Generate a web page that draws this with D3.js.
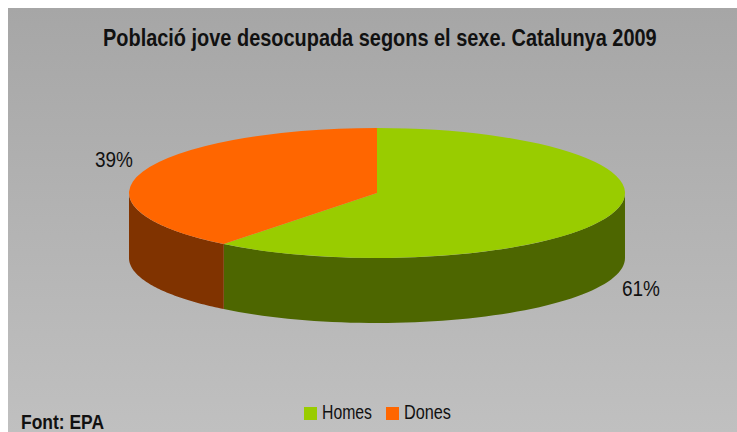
<!DOCTYPE html>
<html><head><meta charset="utf-8">
<script src="https://cdn.jsdelivr.net/npm/d3@7/dist/d3.min.js"></script>
<style>html,body{margin:0;padding:0;background:#fff}svg{display:block}
text{font-family:"Liberation Sans",sans-serif;fill:#111}</style>
</head><body><div id="c"></div>
<script>
const title = "Població jove desocupada segons el sexe. Catalunya 2009";
const source = "Font: EPA";
const categories = ["Homes","Dones"];
const values = [60.6,39.4];
const topColors = ["#99cc00","#ff6600"];
const sideColors = ["#4d6600","#803300"];

const W=737,H=432,cx=377,cy=193,rx=248,ry=65,depth=65;
const svg=d3.select("#c").append("svg").attr("width",W).attr("height",H);
const grad=svg.append("defs").append("linearGradient").attr("id","bg").attr("x1",0).attr("x2",0).attr("y1",0).attr("y2",1);
grad.append("stop").attr("offset",0).attr("stop-color","#a6a6a6");
grad.append("stop").attr("offset",1).attr("stop-color","#c0c0c0");
svg.append("rect").attr("x",8).attr("y",8).attr("width",W-8).attr("height",H-8).attr("fill","url(#bg)");

const narrow=(sel,len)=>sel.attr("textLength",len).attr("lengthAdjust","spacingAndGlyphs");

// title: condensed with a horizontal scale so its box stays inside the picture
const titleText=svg.append("text").attr("transform","translate(103,46)").attr("font-size",24).attr("font-weight","bold").text(title);
const natural=titleText.node().getComputedTextLength();
titleText.attr("transform",`translate(103,46) scale(${554/natural},1)`);

const pie=d3.pie().sort(null).value(d=>d)(values);
const px=a=>cx+rx*Math.sin(a), py=(a,dy)=>cy-ry*Math.cos(a)+dy;
const g=svg.append("g");
// visible rim: front half of the disc only
pie.map((p,i)=>({i,a0:Math.max(p.startAngle,Math.PI/2),a1:Math.min(p.endAngle,3*Math.PI/2)}))
 .filter(s=>s.a1>s.a0).forEach(s=>{
  const steps=d3.range(0,61).map(k=>s.a0+(s.a1-s.a0)*k/60);
  const area=d3.area().x(a=>px(a)).y0(a=>py(a,0)).y1(a=>py(a,depth));
  g.append("path").attr("d",area(steps)).attr("fill",sideColors[s.i]);
 });
const arc=d3.arc().innerRadius(0).outerRadius(rx);
g.append("g").attr("transform",`translate(${cx},${cy}) scale(1,${ry/rx})`)
 .selectAll("path").data(pie).join("path").attr("d",arc).attr("fill",(d,i)=>topColors[i]);

const labelPos=[[622,296],[95,167]];
svg.selectAll(".pct").data(values).join("text").attr("class","pct")
  .attr("x",(d,i)=>labelPos[i][0]).attr("y",(d,i)=>labelPos[i][1])
  .attr("font-size",22).text(d=>Math.round(d)+"%").call(narrow,38);

const legendX=[304,386];
const legendLen=[50,47];
const leg=svg.selectAll(".leg").data(categories).join("g").attr("class","leg")
  .attr("transform",(d,i)=>`translate(${legendX[i]},407)`);
leg.append("rect").attr("width",13).attr("height",13).attr("fill",(d,i)=>topColors[i]);
leg.append("text").attr("x",18).attr("y",12).attr("font-size",20).text(d=>d)
  .attr("textLength",(d,i)=>legendLen[i]).attr("lengthAdjust","spacingAndGlyphs");

svg.append("text").attr("x",21).attr("y",429).attr("font-size",20).attr("font-weight","bold")
  .text(source).call(narrow,83);
</script></body></html>
